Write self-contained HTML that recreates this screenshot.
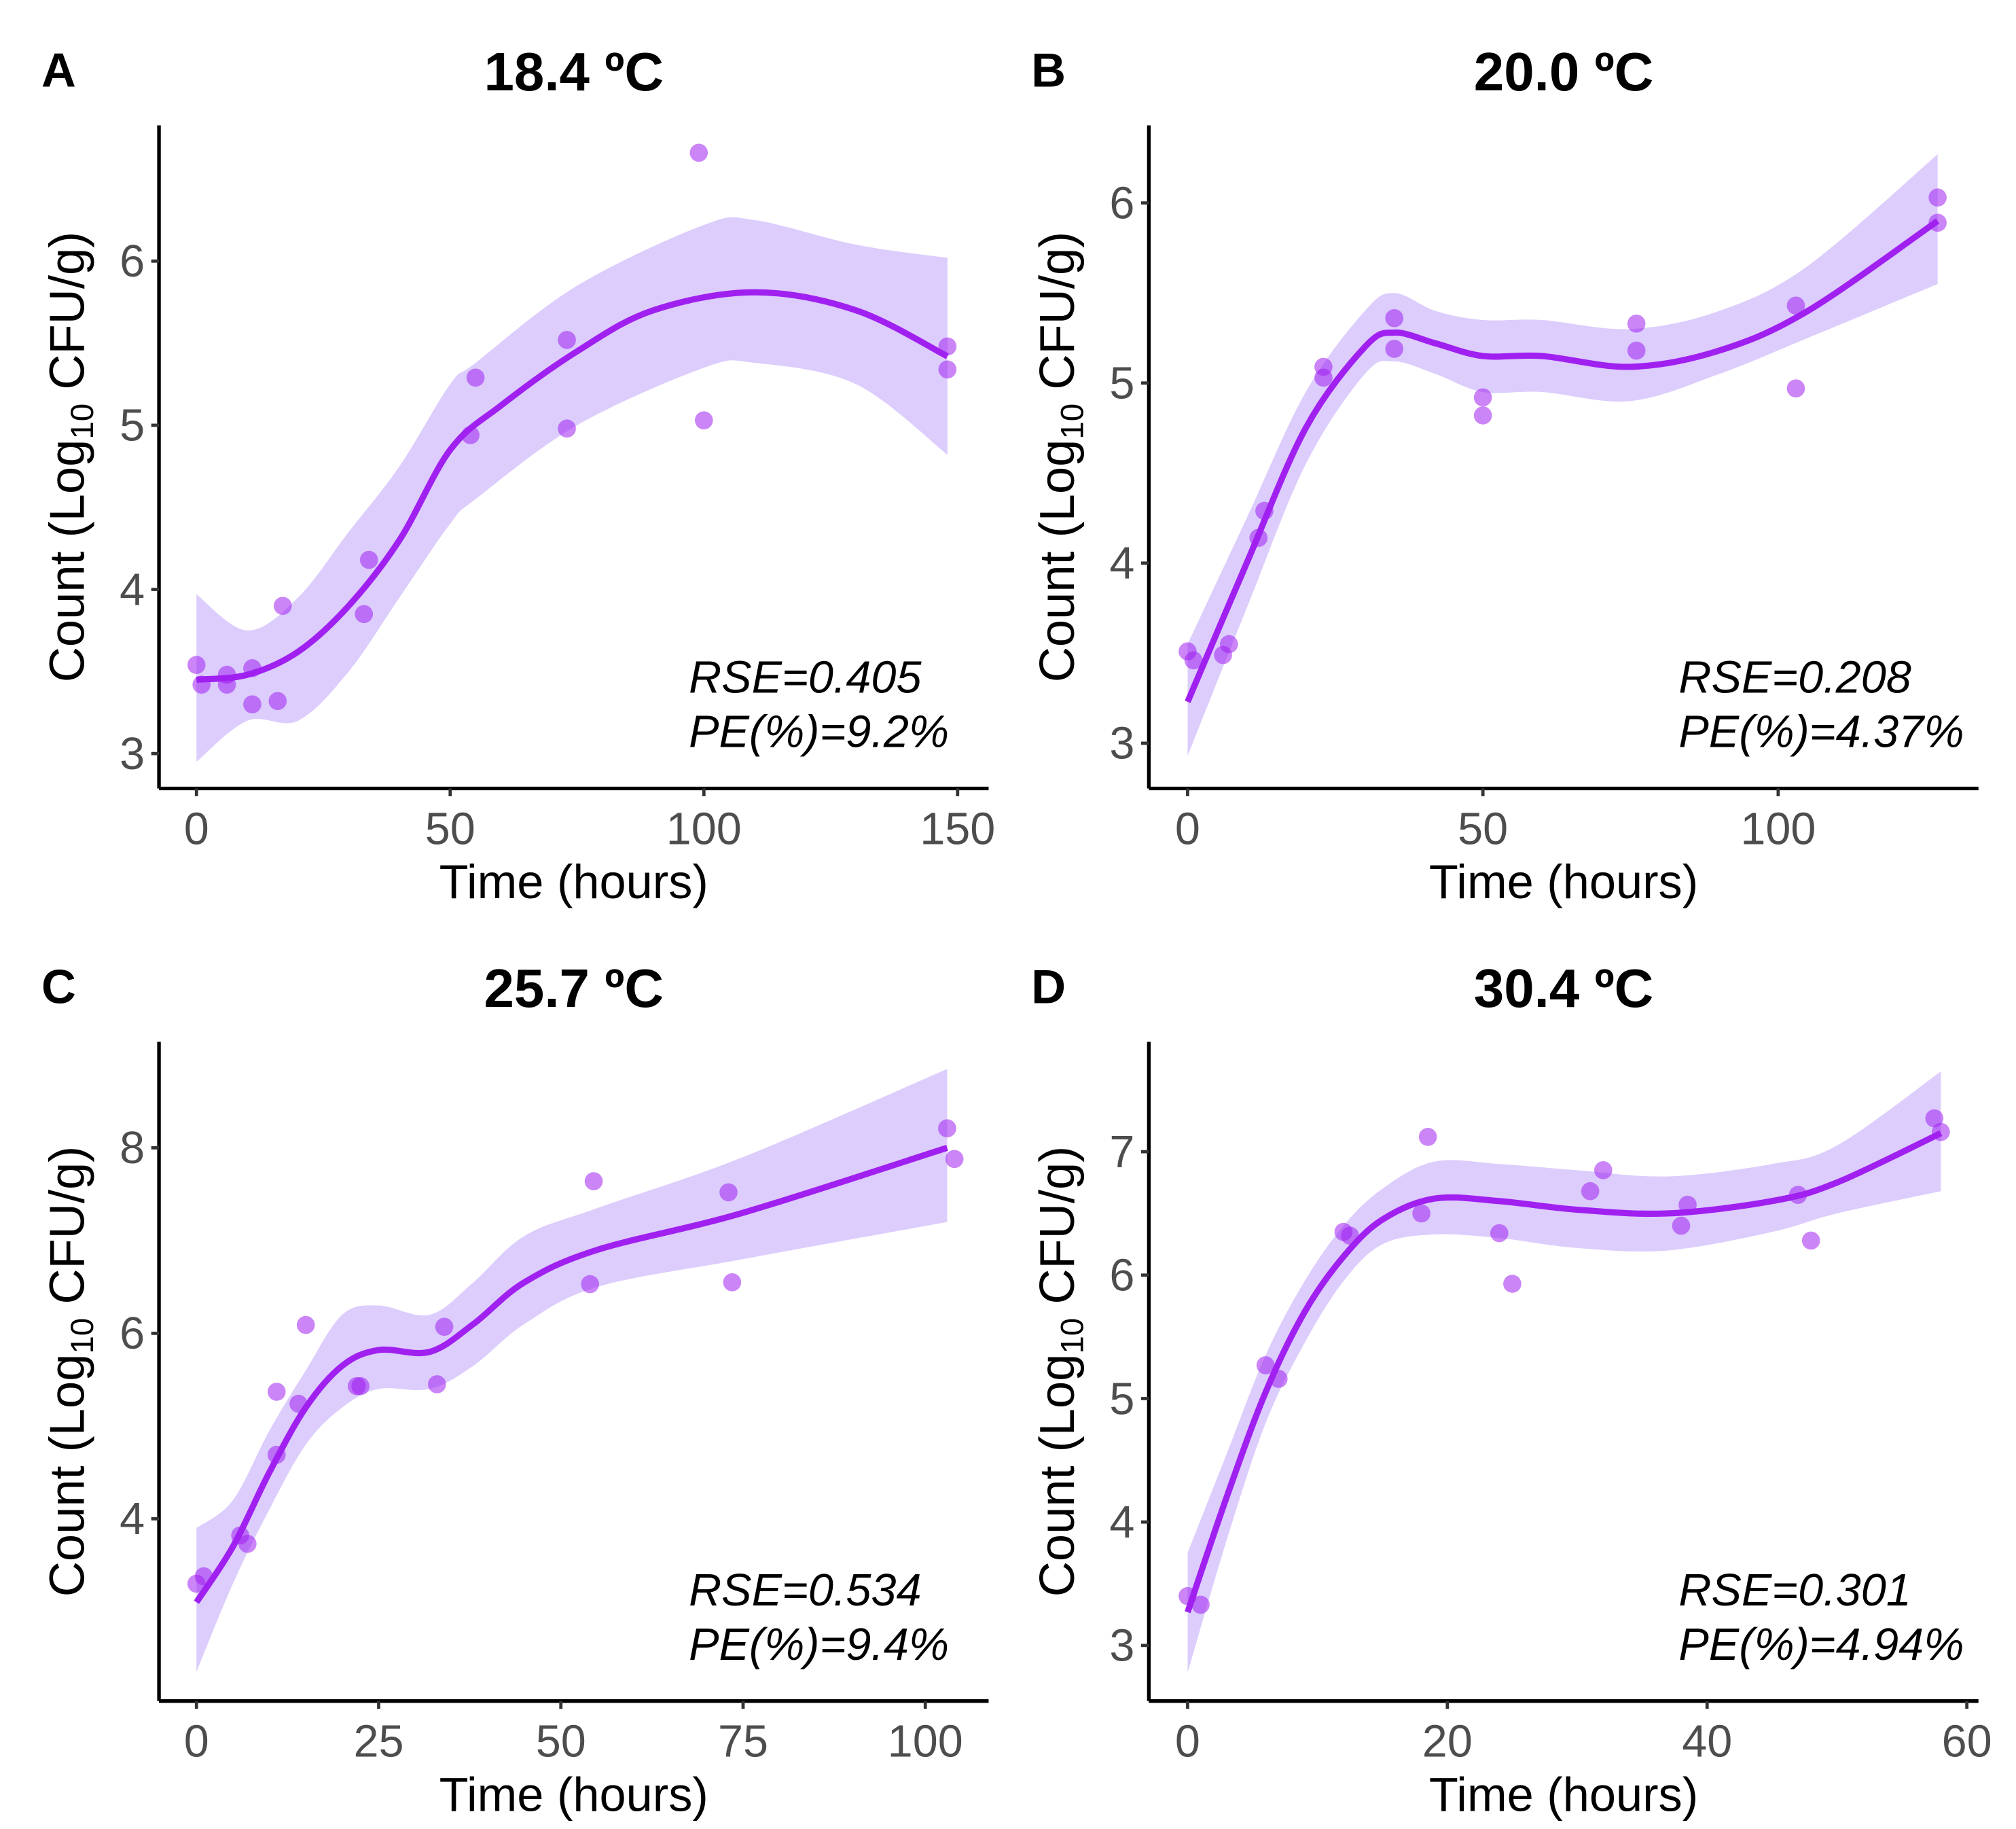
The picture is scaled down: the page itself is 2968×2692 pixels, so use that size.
<!DOCTYPE html>
<html><head><meta charset="utf-8"><style>
html,body{margin:0;padding:0;background:#fff}
svg{display:block}
text{font-family:"Liberation Sans",sans-serif}
</style></head><body>
<svg id="fig" width="2968" height="2692" viewBox="0 0 1560 1415" xmlns="http://www.w3.org/2000/svg"></svg>
<script>
// ---- Panel A data (18.4 C) ----
const aPtsX=[0,1,6,6,11,11,16,17,33,34,54,55,73,73,99,100,148,148];
const aPtsY=[3.54,3.42,3.48,3.42,3.30,3.52,3.32,3.90,3.85,4.18,4.94,5.29,4.98,5.52,6.66,5.03,5.48,5.34];
const aFitX=[0,10,20,30,40,50,60,75,90,110,130,148];
const aFitY=[3.45,3.48,3.62,3.90,4.30,4.85,5.12,5.45,5.70,5.81,5.70,5.42];
const aBandX=[0,10,20,30,40,50,55,75,100,110,130,148];
const aBandLo=[2.95,3.20,3.20,3.50,3.95,4.40,4.55,5.00,5.35,5.38,5.25,4.82];
const aBandHi=[3.97,3.75,3.95,4.35,4.75,5.25,5.38,5.85,6.22,6.25,6.10,6.02];
const aXTicks=[0,50,100,150];
const aYTicks=[3,4,5,6];
// ---- Panel B data (20.0 C) ----
const bPtsX=[0,1,6,7,12,13,23,23,35,35,50,50,76,76,103,103,127,127];
const bPtsY=[3.51,3.46,3.49,3.55,4.14,4.29,5.09,5.03,5.36,5.19,4.92,4.82,5.33,5.18,5.43,4.97,6.03,5.89];
const bFitX=[0,10,20,30,35,42,50,60,75,90,105,127];
const bFitY=[3.23,4.00,4.75,5.20,5.28,5.22,5.15,5.15,5.09,5.18,5.40,5.90];
const bBandX=[0,10,20,30,35,42,50,60,75,90,105,127];
const bBandLo=[2.93,3.75,4.55,5.05,5.12,5.05,4.95,4.95,4.90,5.05,5.25,5.55];
const bBandHi=[3.55,4.25,4.95,5.40,5.50,5.40,5.35,5.35,5.30,5.40,5.65,6.27];
const bXTicks=[0,50,100];
const bYTicks=[3,4,5,6];
// ---- Panel C data (25.7 C) ----
const cPtsX=[0,1,6,7,11,11,14,15,22,22.5,33,34,54,54.5,73,73.5,103,104];
const cPtsY=[3.30,3.38,3.82,3.73,5.37,4.69,5.24,6.09,5.43,5.43,5.45,6.07,6.53,7.64,7.52,6.55,8.21,7.88];
const cFitX=[0,5,10,15,20,25,32,38,45,55,75,103];
const cFitY=[3.10,3.70,4.50,5.20,5.65,5.82,5.80,6.10,6.55,6.90,7.30,8.00];
const cBandX=[0,5,10,15,20,25,32,38,45,55,75,103];
const cBandLo=[2.35,3.30,4.10,4.80,5.20,5.40,5.40,5.65,6.10,6.50,6.80,7.20];
const cBandHi=[3.90,4.20,4.95,5.60,6.20,6.30,6.20,6.55,7.05,7.35,7.90,8.85];
const cXTicks=[0,25,50,75,100];
const cYTicks=[4,6,8];
// ---- Panel D data (30.4 C) ----
const dPtsX=[0,1,6,7,12,12.5,18,18.5,24,25,31,32,38,38.5,47,48,57.5,58];
const dPtsY=[3.40,3.33,5.27,5.16,6.35,6.32,6.50,7.12,6.34,5.93,6.68,6.85,6.40,6.57,6.65,6.28,7.27,7.16];
const dFitX=[0,3,6,9,12,15,19,24,30,37,45,50,58];
const dFitY=[3.27,4.20,5.05,5.70,6.15,6.45,6.62,6.60,6.53,6.50,6.60,6.75,7.15];
const dBandX=[0,3,6,9,12,15,19,24,30,37,45,50,58];
const dBandLo=[2.78,3.85,4.80,5.45,5.95,6.25,6.33,6.30,6.22,6.20,6.35,6.50,6.68];
const dBandHi=[3.75,4.55,5.35,5.95,6.40,6.70,6.92,6.90,6.85,6.80,6.90,7.05,7.65];
const dXTicks=[0,20,40,60];
const dYTicks=[3,4,5,6,7];

const NS='http://www.w3.org/2000/svg';
const svg=document.getElementById('fig');
function mk(tag,attrs,parent){const e=document.createElementNS(NS,tag);for(const k in attrs)e.setAttribute(k,attrs[k]);(parent||svg).appendChild(e);return e;}
function smooth(p){
  let d='M'+p[0][0]+','+p[0][1];
  for(let i=0;i<p.length-1;i++){
    const p0=p[i-1]||p[i],p1=p[i],p2=p[i+1],p3=p[i+2]||p2;
    const c1x=p1[0]+(p2[0]-p0[0])/6,c1y=p1[1]+(p2[1]-p0[1])/6;
    const c2x=p2[0]-(p3[0]-p1[0])/6,c2y=p2[1]-(p3[1]-p1[1])/6;
    d+=' C'+c1x+','+c1y+' '+c2x+','+c2y+' '+p2[0]+','+p2[1];
  }
  return d;
}

function panel(cfg){
  const g=mk('g',{});
  
  
  const xs=v=>cfg.x0px+(v-cfg.x0v)*(cfg.x1px-cfg.x0px)/(cfg.x1v-cfg.x0v);
  const ys=v=>cfg.y0px+(v-cfg.y0v)*(cfg.y1px-cfg.y0px)/(cfg.y1v-cfg.y0v);
  const up=cfg.bx.map((x,i)=>[xs(x),ys(cfg.bhi[i])]);
  const lo=cfg.bx.map((x,i)=>[xs(x),ys(cfg.blo[i])]).reverse();
  let bd=smooth(up)+' L'+lo[0][0]+','+lo[0][1]+smooth(lo).replace(/^M[^ ]+/,'')+' Z';
  const band=mk('path',{d:bd,fill:'#dccdfd',stroke:'none'},g);
  
  
  const fit=mk('path',{d:smooth(cfg.fx.map((x,i)=>[xs(x),ys(cfg.fy[i])])),fill:'none',stroke:'#a020f0','stroke-width':4.8},g);
  
  
  cfg.px.forEach((x,i)=>{
    const c=mk('circle',{cx:xs(x),cy:ys(cfg.py[i]),r:7,fill:'#a020f0','fill-opacity':0.55},g);
    
    
  });
  const ax=mk('line',{x1:cfg.axL,y1:cfg.axB,x2:cfg.axR,y2:cfg.axB,stroke:'#000','stroke-width':2.8},g);
  
  
  const ay=mk('line',{x1:cfg.axL,y1:cfg.axT,x2:cfg.axL,y2:cfg.axB,stroke:'#000','stroke-width':2.8},g);
  
  
  cfg.xt.forEach(v=>{
    mk('line',{x1:xs(v),y1:cfg.axB,x2:xs(v),y2:cfg.axB+6,stroke:'#333','stroke-width':2.5},g);
    const t=mk('text',{x:xs(v),y:cfg.axB+43,'text-anchor':'middle','font-size':35,fill:'#4d4d4d'},g);
    t.textContent=v;
    
    
  });
  cfg.yt.forEach(v=>{
    mk('line',{x1:cfg.axL-6,y1:ys(v),x2:cfg.axL,y2:ys(v),stroke:'#333','stroke-width':2.5},g);
    const t=mk('text',{x:cfg.axL-11,y:ys(v)+12,'text-anchor':'end','font-size':35,fill:'#4d4d4d'},g);
    t.textContent=v;
    
    
  });
  const cx=(cfg.axL+cfg.axR)/2;
  const tl=mk('text',{x:cx,y:cfg.axT-27,'text-anchor':'middle','font-size':42,'font-weight':'bold'},g);
  tl.textContent=cfg.title;
  
  
  const lt=mk('text',{x:cfg.axL-91,y:cfg.axT-30,'font-size':37,'font-weight':'bold'},g);
  lt.textContent=cfg.letter;
  
  
  const xl=mk('text',{x:cx,y:cfg.axB+85,'text-anchor':'middle','font-size':37},g);
  xl.textContent='Time (hours)';
  
  
  const ym=(cfg.axT+cfg.axB)/2;
  const yl=mk('text',{x:0,y:0,'text-anchor':'middle','font-size':38,transform:'translate('+(cfg.axL-58)+','+ym+') rotate(-90)'},g);
  yl.innerHTML='Count (Log<tspan font-size="25" dy="7">10</tspan><tspan dy="-7"> CFU/g)</tspan>';
  
  
  const a1=mk('text',{x:cfg.axR-232,y:cfg.axB-74,'font-size':35,'font-style':'italic'},g);
  a1.textContent=cfg.rse;
  
  
  const a2=mk('text',{x:cfg.axR-232,y:cfg.axB-32,'font-size':35,'font-style':'italic'},g);
  a2.textContent=cfg.pe;
  
  
}

panel({letter:'A',title:'18.4 ºC',rse:'RSE=0.405',pe:'PE(%)=9.2%',axL:123,axR:765,axT:97,axB:610,
  x0v:0,x0px:152,x1v:150,x1px:741,y0v:3,y0px:583,y1v:6,y1px:202,
  px:aPtsX,py:aPtsY,fx:aFitX,fy:aFitY,bx:aBandX,blo:aBandLo,bhi:aBandHi,xt:aXTicks,yt:aYTicks});
panel({letter:'B',title:'20.0 ºC',rse:'RSE=0.208',pe:'PE(%)=4.37%',axL:889,axR:1531,axT:97,axB:610,
  x0v:0,x0px:919,x1v:100,x1px:1376,y0v:3,y0px:575,y1v:6,y1px:157,
  px:bPtsX,py:bPtsY,fx:bFitX,fy:bFitY,bx:bBandX,blo:bBandLo,bhi:bBandHi,xt:bXTicks,yt:bYTicks});
panel({letter:'C',title:'25.7 ºC',rse:'RSE=0.534',pe:'PE(%)=9.4%',axL:123,axR:765,axT:806,axB:1316,
  x0v:0,x0px:152,x1v:100,x1px:716,y0v:4,y0px:1175,y1v:8,y1px:888,
  px:cPtsX,py:cPtsY,fx:cFitX,fy:cFitY,bx:cBandX,blo:cBandLo,bhi:cBandHi,xt:cXTicks,yt:cYTicks});
panel({letter:'D',title:'30.4 ºC',rse:'RSE=0.301',pe:'PE(%)=4.94%',axL:889,axR:1531,axT:806,axB:1316,
  x0v:0,x0px:919,x1v:60,x1px:1522,y0v:3,y0px:1273,y1v:7,y1px:891,
  px:dPtsX,py:dPtsY,fx:dFitX,fy:dFitY,bx:dBandX,blo:dBandLo,bhi:dBandHi,xt:dXTicks,yt:dYTicks});
</script>
</body></html>
